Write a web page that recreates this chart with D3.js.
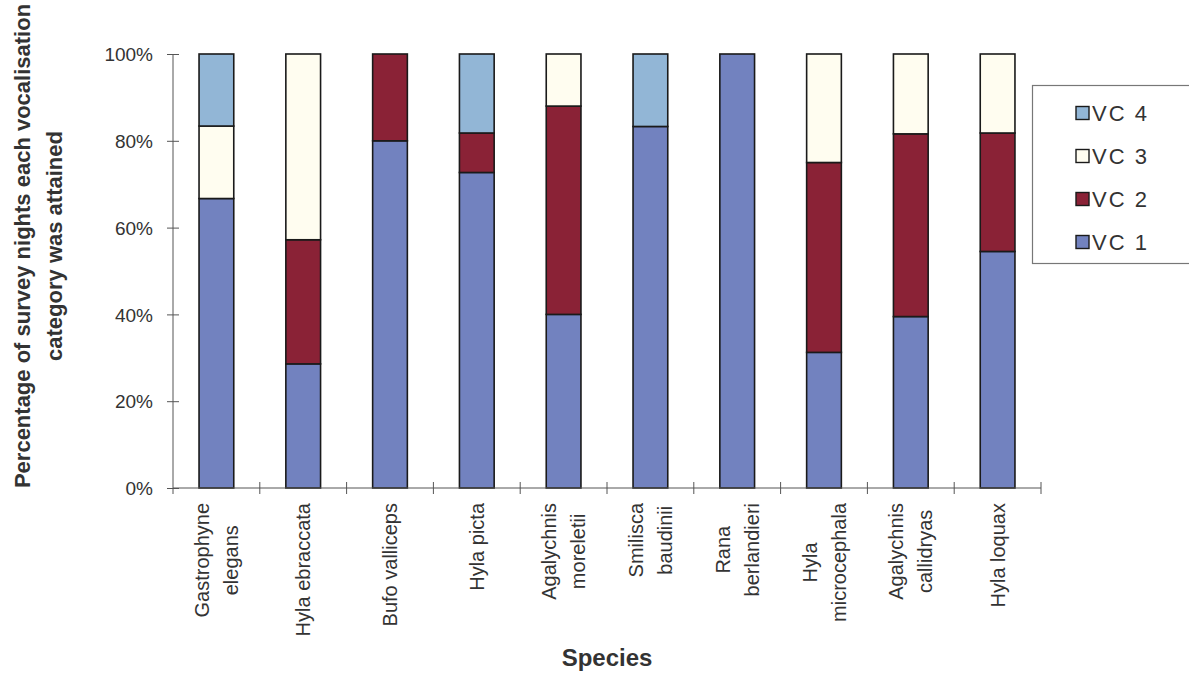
<!DOCTYPE html>
<html>
<head>
<meta charset="utf-8">
<script src="https://cdn.jsdelivr.net/npm/d3@7/dist/d3.min.js"></script>
<style>
  html, body { margin: 0; padding: 0; background: #fff; }
  svg { display: block; }
  text { font-family: "Liberation Sans", Arial, sans-serif; fill: #333; }
</style>
</head>
<body>
<svg id="chart" width="1189" height="675"></svg>
<script>
// Species (each label split into the lines it is printed on)
const species = [
  ["Gastrophyne", "elegans"],
  ["Hyla ebraccata"],
  ["Bufo valliceps"],
  ["Hyla picta"],
  ["Agalychnis", "moreletii"],
  ["Smilisca", "baudinii"],
  ["Rana", "berlandieri"],
  ["Hyla", "microcephala"],
  ["Agalychnis", "callidryas"],
  ["Hyla loquax"]
];

// Percentage of survey nights per vocalisation category
const vc1 = [66.7, 28.6, 80.0, 72.7, 40.0, 83.3, 100.0, 31.25, 39.5, 54.5];
const vc2 = [0.0, 28.6, 20.0, 9.1, 48.0, 0.0, 0.0, 43.75, 42.1, 27.3];
const vc3 = [16.7, 42.8, 0.0, 0.0, 12.0, 0.0, 0.0, 25.0, 18.4, 18.2];
const vc4 = [16.6, 0.0, 0.0, 18.2, 0.0, 16.7, 0.0, 0.0, 0.0, 0.0];

const seriesNames = ["VC 1", "VC 2", "VC 3", "VC 4"];
const seriesColors = ["#7282bf", "#8a2236", "#fffdf0", "#92b6d6"];
const yTicks = [0, 20, 40, 60, 80, 100];

const svg = d3.select("#chart");
const plot = { left: 173, right: 1041, top: 54, bottom: 488 };

const keys = species.map(s => s.join(" "));
const rows = keys.map((k, i) => ({ key: k, "VC 1": vc1[i], "VC 2": vc2[i], "VC 3": vc3[i], "VC 4": vc4[i] }));
const stacked = d3.stack().keys(seriesNames)(rows);

const x = d3.scaleBand().domain(keys).range([plot.left, plot.right])
  .paddingInner(0.6).paddingOuter(0.3);
const y = d3.scaleLinear().domain([0, 100]).range([plot.bottom, plot.top]);
const color = d3.scaleOrdinal().domain(seriesNames).range(seriesColors);

// Stacked bars
svg.append("g").selectAll("g").data(stacked).join("g")
  .attr("fill", d => color(d.key))
  .selectAll("rect")
  .data(d => d.filter(p => p[1] - p[0] > 0))
  .join("rect")
  .attr("x", d => x(d.data.key))
  .attr("width", x.bandwidth())
  .attr("y", d => y(d[1]))
  .attr("height", d => y(d[0]) - y(d[1]))
  .attr("stroke", "#1a1a1a")
  .attr("stroke-width", 1.6);

// Y axis with cross ticks
const yAxis = svg.append("g")
  .attr("transform", `translate(${plot.left},0)`)
  .call(d3.axisLeft(y).tickValues(yTicks).tickSize(6).tickFormat(d => d + "%"));
yAxis.select(".domain").attr("stroke", "#555").attr("d", `M0,${y(0)}V${y(100)}`);
yAxis.selectAll(".tick line").attr("stroke", "#555").attr("x1", 6).attr("x2", -6);
yAxis.selectAll(".tick text")
  .attr("x", -20)
  .attr("dy", "0.35em")
  .style("font-size", "19px")
  .style("font-family", "'Liberation Sans', Arial, sans-serif")
  .attr("fill", "#333");

// X axis: ticks on the category boundaries
const bounds = d3.range(keys.length + 1).map(i => plot.left + i * x.step());
const xAxis = svg.append("g");
xAxis.append("line")
  .attr("x1", plot.left).attr("x2", plot.right)
  .attr("y1", y(0)).attr("y2", y(0))
  .attr("stroke", "#555");
xAxis.selectAll("line.tick").data(bounds).join("line")
  .attr("class", "tick")
  .attr("x1", d => d).attr("x2", d => d)
  .attr("y1", (d, i) => i === 0 ? y(0) : y(0) - 6)
  .attr("y2", y(0) + 6)
  .attr("stroke", "#555");

// Rotated species labels, lines centred on each other, block hanging from the axis
const labelTop = 503;
const lineGap = 29;
species.forEach((lines, i) => {
  const cx = x(keys[i]) + x.bandwidth() / 2;
  const g = svg.append("g");
  const texts = lines.map((ln, j) => g.append("text")
    .text(ln)
    .style("font-size", "20px")
    .attr("text-anchor", "middle"));
  const maxLen = d3.max(texts, t => t.node().getComputedTextLength());
  const cy = labelTop + maxLen / 2;
  texts.forEach((t, j) => {
    const off = (j - (lines.length - 1) / 2) * lineGap;
    t.attr("transform", `translate(${cx + off + 7},${cy}) rotate(-90)`);
  });
});

// Axis titles
svg.append("text")
  .attr("x", (plot.left + plot.right) / 2)
  .attr("y", 666)
  .attr("text-anchor", "middle")
  .style("font-size", "24px")
  .style("font-weight", "bold")
  .attr("fill", "#3a3a3a")
  .text("Species");

const yTitle = ["Percentage of survey nights each vocalisation", "category was attained"];
yTitle.forEach((t, j) => {
  svg.append("text")
    .attr("transform", `translate(${30 + j * 32},246) rotate(-90)`)
    .attr("text-anchor", "middle")
    .style("font-size", "22px")
    .style("font-weight", "bold")
    .attr("fill", "#3a3a3a")
    .text(t);
});

// Legend (VC 4 at the top)
const legend = svg.append("g");
legend.append("rect")
  .attr("x", 1032.5).attr("y", 85.5)
  .attr("width", 180).attr("height", 178)
  .attr("fill", "#fff").attr("stroke", "#777").attr("stroke-width", 1.2);
const legendOrder = seriesNames.slice().reverse();
const ly = d3.scalePoint().domain(legendOrder).range([113, 242]);
const item = legend.selectAll("g.item").data(legendOrder).join("g")
  .attr("class", "item")
  .attr("transform", d => `translate(1076,${ly(d)})`);
item.append("rect")
  .attr("x", 0).attr("y", -6.5).attr("width", 13).attr("height", 13)
  .attr("fill", d => color(d)).attr("stroke", "#1a1a1a").attr("stroke-width", 1.4);
item.append("text")
  .attr("x", 16).attr("dy", "0.36em")
  .style("font-size", "22px")
  .style("letter-spacing", "2px")
  .text(d => d);
</script>
</body>
</html>
